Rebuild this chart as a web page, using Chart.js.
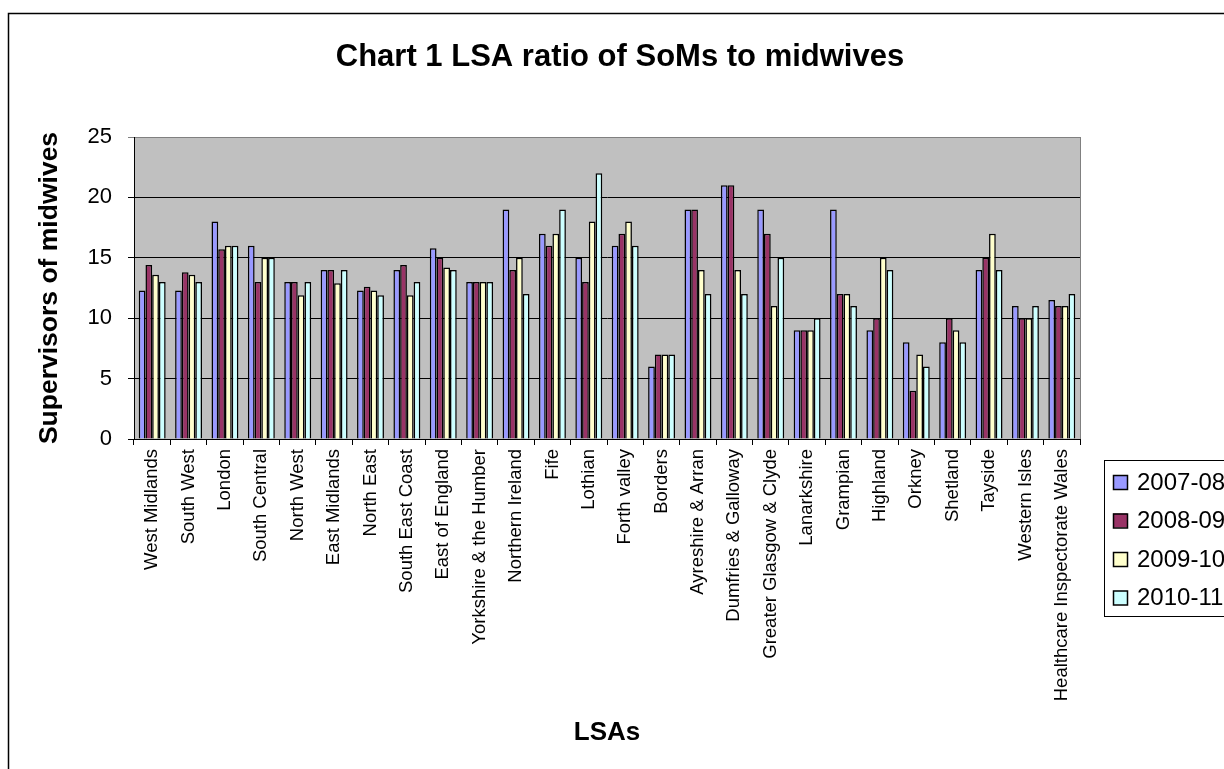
<!DOCTYPE html>
<html>
<head>
<meta charset="utf-8">
<script src="https://cdn.jsdelivr.net/npm/chart.js@4/dist/chart.umd.min.js"></script>
<style>
  html, body { margin: 0; padding: 0; background: #fff; }
  #wrap { width: 1224px; height: 769px; }
</style>
</head>
<body>
<div id="wrap"><canvas id="myChart" width="1224" height="769"></canvas></div>
<script>
const categorias = ['West Midlands', 'South West', 'London', 'South Central', 'North West', 'East Midlands',
  'North East', 'South East Coast', 'East of England', 'Yorkshire & the Humber', 'Northern Ireland', 'Fife',
  'Lothian', 'Forth valley', 'Borders', 'Ayreshire & Arran', 'Dumfries & Galloway', 'Greater Glasgow & Clyde',
  'Lanarkshire', 'Grampian', 'Highland', 'Orkney', 'Shetland', 'Tayside', 'Western Isles',
  'Healthcare Inspectorate Wales'];
const anos = ['2007-08', '2008-09', '2009-10', '2010-11'];
const v0708 = [12.3, 12.3, 18, 16, 13, 14, 12.3, 14, 15.8, 13, 19, 17, 15, 16, 6, 19, 21, 19, 9, 19, 9, 8, 8, 14, 11, 11.5];
const v0809 = [14.4, 13.8, 15.7, 13, 13, 14, 12.6, 14.4, 15, 13, 14, 16, 13, 17, 7, 19, 21, 17, 9, 12, 10, 4, 10, 15, 10, 11];
const v0910 = [13.6, 13.6, 16, 15, 11.9, 12.9, 12.3, 11.9, 14.2, 13, 15, 17, 18, 18, 7, 14, 14, 11, 9, 12, 15, 7, 9, 17, 10, 11];
const v1011 = [13, 13, 16, 15, 13, 14, 11.9, 13, 14, 13, 12, 19, 22, 16, 7, 12, 12, 15, 10, 11, 14, 6, 8, 14, 11, 12];
const yTicks = [0, 5, 10, 15, 20, 25];

const cores = ['#9999FF', '#993366', '#FFFFCC', '#CCFFFF'];
const fonte = '"Liberation Sans", Arial, sans-serif';

const ctx = document.getElementById('myChart');

// fundo cinza da area do grafico, moldura, titulo e legenda
const extras = {
  id: 'extras',
  beforeDraw(chart) {
    const c = chart.ctx;
    const a = chart.chartArea;
    c.save();
    c.fillStyle = '#fff';
    c.fillRect(0, 0, chart.width, chart.height);
    c.strokeStyle = '#000';
    c.lineWidth = 1.5;
    c.strokeRect(8.5, 13.5, 1400, 900);
    c.fillStyle = '#C0C0C0';
    c.fillRect(a.left, a.top, a.right - a.left, a.bottom - a.top);
    c.strokeStyle = '#808080';
    c.lineWidth = 1;
    c.strokeRect(a.left + 0.5, a.top + 0.5, a.right - a.left, a.bottom - a.top);
    c.restore();
  },
  afterDraw(chart) {
    const c = chart.ctx;
    c.save();
    c.fillStyle = '#000';
    c.font = 'bold 31px ' + fonte;
    c.textAlign = 'center';
    c.textBaseline = 'middle';
    c.fillText('Chart 1 LSA ratio of SoMs to midwives', 620, 57);

    // legenda
    c.fillStyle = '#fff';
    c.fillRect(1104, 460, 200, 156);
    c.strokeStyle = '#000';
    c.lineWidth = 1;
    c.strokeRect(1104.5, 460.5, 200, 156);
    c.font = '24px ' + fonte;
    c.textAlign = 'left';
    anos.forEach((ano, i) => {
      const y = 482 + i * 38.5;
      c.fillStyle = cores[i];
      c.fillRect(1113, y - 7, 14, 14);
      c.strokeStyle = '#000';
      c.lineWidth = 1.5;
      c.strokeRect(1113.5, y - 6.5, 14, 14);
      c.fillStyle = '#000';
      c.fillText(ano, 1137, y + 1);
    });
    c.restore();
  }
};

const series = [v0708, v0809, v0910, v1011];

new Chart(ctx, {
  type: 'bar',
  data: {
    labels: categorias,
    datasets: series.map((s, i) => ({
      label: anos[i],
      data: s,
      backgroundColor: cores[i],
      borderColor: '#000',
      borderWidth: 1.5,
      borderSkipped: 'bottom',
      categoryPercentage: 0.74,
      barPercentage: 1.0
    }))
  },
  options: {
    responsive: false,
    animation: false,
    layout: { padding: { left: 30, right: 144, top: 137, bottom: 17 } },
    plugins: {
      legend: { display: false },
      title: { display: false },
      tooltip: { enabled: false }
    },
    scales: {
      x: {
        grid: { drawOnChartArea: false, drawTicks: true, tickLength: 6, color: '#000', offset: true },
        border: { color: '#000', width: 1 },
        ticks: {
          color: '#000', font: { family: fonte, size: 18.5 },
          maxRotation: 90, minRotation: 90, autoSkip: false, padding: 4
        },
        title: {
          display: true, text: 'LSAs', color: '#000',
          font: { family: fonte, size: 26, weight: 'bold' }
        },
        afterFit(scale) { scale.height = 313; }
      },
      y: {
        min: 0, max: 25,
        afterBuildTicks(scale) { scale.ticks = yTicks.map(v => ({ value: v })); },
        grid: {
          color: (c) => c.tick && c.tick.value === 25 ? '#808080' : '#000',
          tickLength: 6, drawTicks: true
        },
        border: { color: '#000', width: 1 },
        ticks: { color: '#000', font: { family: fonte, size: 22 }, padding: 16 },
        title: {
          display: true, text: 'Supervisors of midwives', color: '#000',
          font: { family: fonte, size: 26.5, weight: 'bold' }
        },
        afterFit(scale) { scale.width = 104; }
      }
    }
  },
  plugins: [extras]
});
</script>
</body>
</html>
